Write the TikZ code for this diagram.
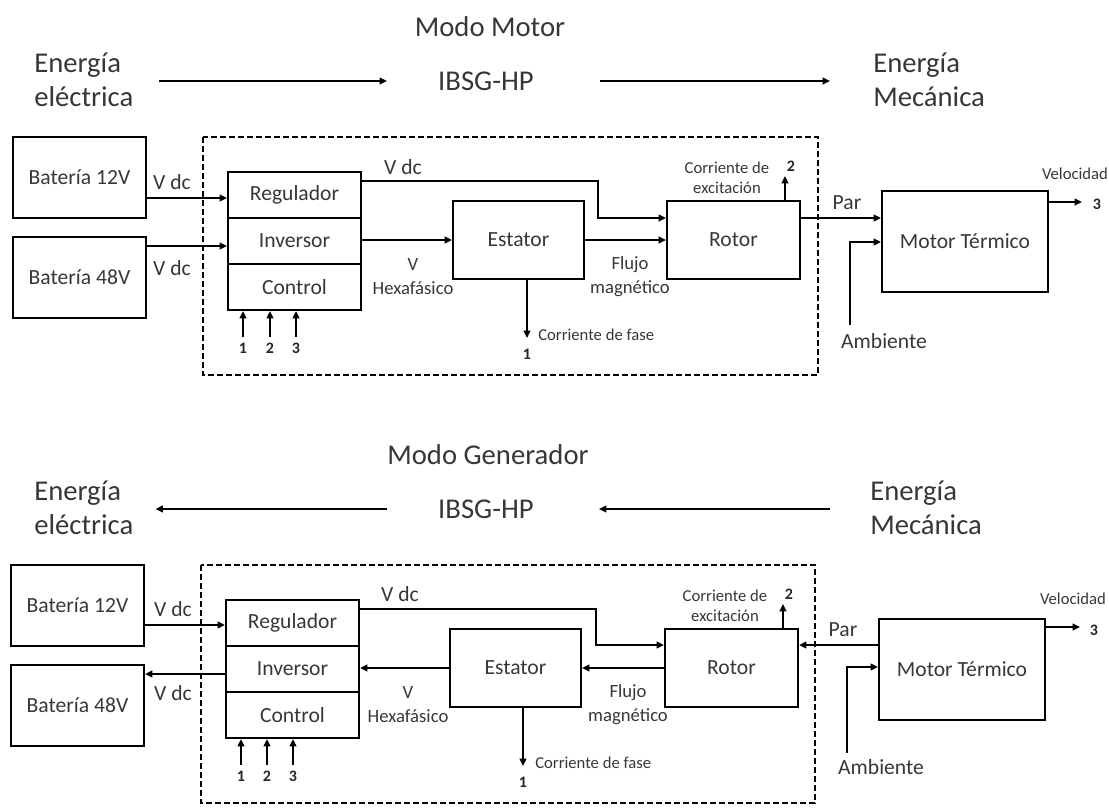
\documentclass[tikz,border=0pt]{standalone}
\usepackage{fontspec}
\setmainfont{Carlito}
\usetikzlibrary{arrows.meta,calc}
\definecolor{tc}{RGB}{55,55,55}
\newcommand\fbig{\fontsize{21.5}{25.5}\selectfont}
\newcommand\fmed{\fontsize{16.2}{18}\selectfont}
\newcommand\fhex{\fontsize{14}{18}\selectfont}
\newcommand\fsml{\fontsize{12.5}{15}\selectfont}
\newcommand\fnum{\fontsize{12}{14}\selectfont\bfseries}
\begin{document}
\begin{tikzpicture}[x=0.75pt,y=-0.75pt,
  every node/.style={text=tc,inner sep=0pt},
  big/.style={font=\fbig},
  med/.style={font=\fmed},
  hex/.style={font=\fhex,align=center},
  sml/.style={font=\fsml},
  num/.style={font=\fnum,text=black!85},
  box/.style={draw=black,line width=1.6pt,font=\fmed},
  batbox/.style={box,minimum width=99.75pt,minimum height=60.75pt},
  stbox/.style={box,minimum width=99.75pt,minimum height=34.5pt},
  estbox/.style={box,minimum width=98.25pt,minimum height=58.5pt},
  rotbox/.style={box,minimum width=99.75pt,minimum height=58.5pt},
  motbox/.style={box,minimum width=124.5pt,minimum height=75.75pt},
  arr/.style={draw=black,line width=1.4pt,-{Triangle[length=5.5pt,width=5pt]}},
  dashbox/.style={draw=black,line width=1.3pt,dash pattern=on 4.5pt off 2.25pt}]
\useasboundingbox (0,0) rectangle (1109,807);

% ================= Modo Motor =================
\node[big] (mm) at (490,27) {Modo Motor};
\node[big,align=left,anchor=west] (ee1) at (34,80) {Energía\\eléctrica};
\node[big] (ib1) at (486,81) {IBSG-HP};
\node[big,align=left,anchor=west] (em1) at (873,80) {Energía\\Mecánica};
\draw[arr] ($(ee1.east)+(25,1)$) -- ($(ib1.west)+(-51,0)$);
\draw[arr] ($(ib1.east)+(66,0)$) -- ($(em1.west)+(-43,1)$);

\draw[dashbox] (203,137) rectangle (818,375);

\node[batbox] (b121) at (79.5,177.5) {Batería 12V};
\node[batbox] (b481) at (79.5,277.5) {Batería 48V};
\node[stbox] (reg1) at (294.5,195) {Regulador};
\node[stbox] (inv1) at (294.5,241) {Inversor};
\node[stbox] (ctl1) at (294.5,287) {Control};
\node[estbox] (est1) at (518.5,240) {Estator};
\node[rotbox] (rot1) at (733.5,240) {Rotor};
\node[motbox] (mot1) at (965,241.5) {Motor Térmico};

\draw[arr] (b121.east |- 0,198) -- (reg1.west |- 0,198);
\node[med] (vdca1) at (172,182) {V dc};
\draw[arr] (b481.east |- 0,246) -- (inv1.west |- 0,246);
\node[med] (vdcb1) at (172,268) {V dc};
\draw[arr] (reg1.east |- 0,181) -| (598,218) -- (rot1.west |- 0,218);
\node[med] (vdcc1) at (403,167) {V dc};
\draw[arr] (inv1.east |- est1.west) -- (est1.west);
\node[hex] (vh1) at (413,277) {V\\Hexafásico};
\draw[arr] (est1.east) -- (rot1.west |- est1.east);
\node[hex] (fm1) at (630,277) {Flujo\\magnético};
\coordinate (cf1) at (527,338);
\draw[arr] (est1.south -| cf1) -- (cf1);
\node[sml,anchor=west] (cft1) at (538,335) {Corriente de fase};
\node[num] (nf1) at (527,354) {1};
\coordinate (ca1) at (243,337);
\coordinate (cb1) at (270,337);
\coordinate (cc1) at (296,337);
\draw[arr] (ca1) -- (ctl1.south -| ca1);
\draw[arr] (cb1) -- (ctl1.south -| cb1);
\draw[arr] (cc1) -- (ctl1.south -| cc1);
\node[num] (na1) at (243,348) {1};
\node[num] (nb1) at (270,348) {2};
\node[num] (nc1) at (296,348) {3};
\coordinate (ex1) at (785,176);
\draw[arr] (rot1.north -| ex1) -- (ex1);
\node[num] (n21) at (791,166) {2};
\node[sml,align=center] (exc1) at (727,178) {Corriente de\\excitación};
\draw[arr] (rot1.east |- 0,218) -- (mot1.west |- 0,218);
\node[med] (par1) at (847,203) {Par};
\node[med] (amb1) at (884,341) {Ambiente};
\coordinate (as1) at (850,325);
\draw[arr] (as1) |- (mot1.west |- 0,242);
\coordinate (ve1) at (1082,202);
\draw[arr] (mot1.east |- ve1) -- (ve1);
\node[num] (n31) at (1097,204) {3};
\node[sml] (vel1) at (1075,174) {Velocidad};

% ================= Modo Generador =================
\begin{scope}[yshift=-321pt]
\node[big] (mg) at (488,27) {Modo Generador};
\node[big,align=left,anchor=west] (ee2) at (34,80) {Energía\\eléctrica};
\node[big] (ib2) at (486,81) {IBSG-HP};
\node[big,align=left,anchor=west] (em2) at (870,80) {Energía\\Mecánica};
\draw[arr] ($(ib2.west)+(-51,0)$) -- ($(ee2.east)+(22,1)$);
\draw[arr] ($(em2.west)+(-40,1)$) -- ($(ib2.east)+(65,0)$);

\draw[dashbox] (201,137) rectangle (815,375);

\node[batbox] (b122) at (77.5,177.5) {Batería 12V};
\node[batbox] (b482) at (77.5,277.5) {Batería 48V};
\node[stbox] (reg2) at (292.5,195) {Regulador};
\node[stbox] (inv2) at (292.5,241) {Inversor};
\node[stbox] (ctl2) at (292.5,287) {Control};
\node[estbox] (est2) at (515.5,240) {Estator};
\node[rotbox] (rot2) at (731.5,240) {Rotor};
\node[motbox] (mot2) at (962,241.5) {Motor Térmico};

\draw[arr] (b122.east |- 0,197) -- (reg2.west |- 0,197);
\node[med] (vdca2) at (173,181) {V dc};
\draw[arr] (inv2.west |- 0,246) -- (b482.east |- 0,246);
\node[med] (vdcb2) at (173,265) {V dc};
\draw[arr] (reg2.east |- 0,181) -| (596,217) -- (rot2.west |- 0,217);
\node[med] (vdcc2) at (400,166) {V dc};
\draw[arr] (est2.west) -- (inv2.east |- est2.west);
\node[hex] (vh2) at (408,277) {V\\Hexafásico};
\draw[arr] (rot2.west |- est2.east) -- (est2.east);
\node[hex] (fm2) at (628,277) {Flujo\\magnético};
\coordinate (cf2) at (523,338);
\draw[arr] (est2.south -| cf2) -- (cf2);
\node[sml,anchor=west] (cft2) at (535,335) {Corriente de fase};
\node[num] (nf2) at (523,354) {1};
\coordinate (ca2) at (241,337);
\coordinate (cb2) at (267,337);
\coordinate (cc2) at (293,337);
\draw[arr] (ca2) -- (ctl2.south -| ca2);
\draw[arr] (cb2) -- (ctl2.south -| cb2);
\draw[arr] (cc2) -- (ctl2.south -| cc2);
\node[num] (na2) at (241,348) {1};
\node[num] (nb2) at (267,348) {2};
\node[num] (nc2) at (293,348) {3};
\coordinate (ex2) at (783,176);
\draw[arr] (rot2.north -| ex2) -- (ex2);
\node[num] (n22) at (789,166) {2};
\node[sml,align=center] (exc2) at (725,178) {Corriente de\\excitación};
\draw[arr] (mot2.west |- 0,217) -- (rot2.east |- 0,217);
\node[med] (par2) at (843,202) {Par};
\node[med] (amb2) at (881,339) {Ambiente};
\coordinate (as2) at (847,325);
\draw[arr] (as2) |- (mot2.west |- 0,239);
\coordinate (ve2) at (1080,199);
\draw[arr] (mot2.east |- ve2) -- (ve2);
\node[num] (n32) at (1094,202) {3};
\node[sml] (vel2) at (1073,171) {Velocidad};
\end{scope}
\end{tikzpicture}
\end{document}
